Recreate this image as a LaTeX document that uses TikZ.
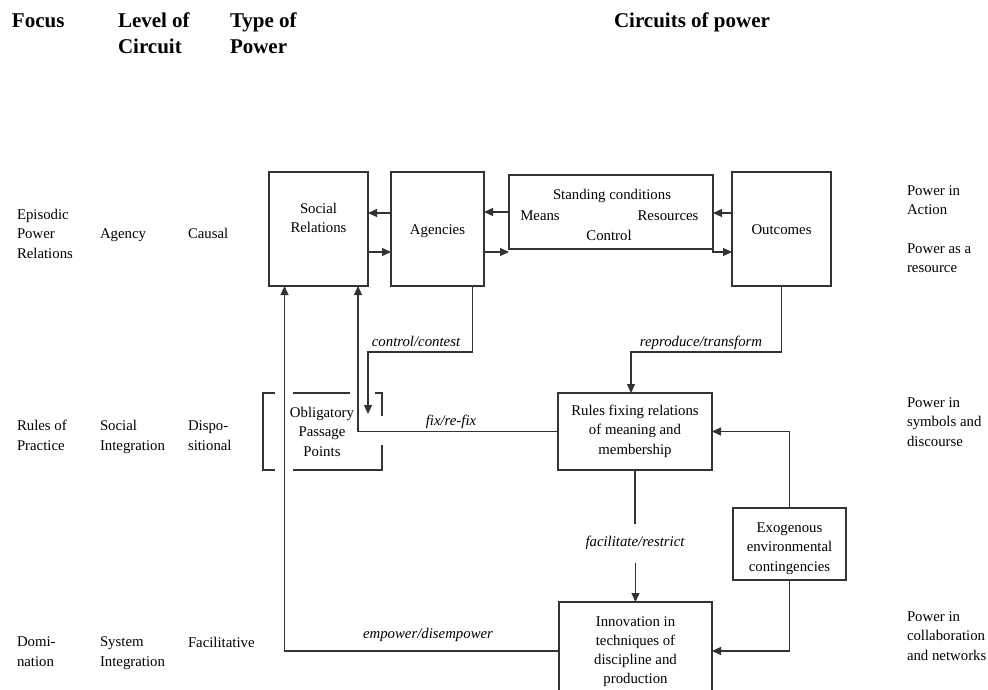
\documentclass[tikz,border=0pt]{standalone}
\usepackage{fontspec}
\setmainfont{Liberation Serif}
\usetikzlibrary{arrows.meta}

\begin{document}
\begin{tikzpicture}[x=1pt,y=-1pt,
  every node/.style={inner sep=0pt, outer sep=0pt},
  body/.style={font=\fontsize{14.8}{19.5}\selectfont, align=left, text=black},
  hdr/.style={font=\fontsize{21}{26}\selectfont\bfseries, align=left, text=black},
  lab/.style={font=\fontsize{14.8}{19}\selectfont\itshape, text=black},
  box/.style={draw=black!80, line width=1.3pt},
  conn/.style={draw=black!80, line width=1.3pt},
  arr/.style={conn, -{Triangle[length=9pt,width=8pt]}},
  ctext/.style={body, align=center, anchor=base}
]
\useasboundingbox (0,0) rectangle (988,689);
\clip (0,0) rectangle (988,689);

% column headings (a multi-line node's base is its last line)
\node[hdr, anchor=base west] (hfocus) at (12,27) {Focus};
\node[hdr, anchor=base west] (hlevel) at (118,53) {Level of\\Circuit};
\node[hdr, anchor=base west] (htype) at (230,53) {Type of\\Power};
\node[hdr, anchor=base west] (hcirc) at (614,27) {Circuits of power};

% row descriptors, left side
\node[body, anchor=base west] (f1) at (17,258) {Episodic\\Power\\Relations};
\node[body, anchor=base west] (l1) at (100,238) {Agency};
\node[body, anchor=base west] (t1) at (188,238) {Causal};
\node[body, anchor=base west] (f2) at (17,450) {Rules of\\Practice};
\node[body, anchor=base west] (l2) at (100,450) {Social\\Integration};
\node[body, anchor=base west] (t2) at (188,450) {Dispo-\\sitional};
\node[body, anchor=base west] (f3) at (17,666) {Domi-\\nation};
\node[body, anchor=base west] (l3) at (100,666) {System\\Integration};
\node[body, anchor=base west] (t3) at (188,647) {Facilitative};

% row descriptors, right side
\node[body, anchor=base west] (p1) at (907,214.5) {Power in\\Action};
\node[body, anchor=base west] (p2) at (907,272.5) {Power as a\\resource};
\node[body, anchor=base west] (p3) at (907,446) {Power in\\symbols and\\discourse};
\node[body, anchor=base west] (p4) at (907,660) {Power in\\collaboration\\and networks};

% episodic circuit boxes
\node[box, minimum width=99pt, minimum height=114pt] (sr) at (318.5,229) {};
\node[ctext] (srt) at (318.5,232.5) {Social\\Relations};
\node[box, minimum width=93pt, minimum height=114pt] (ag) at (437.5,229) {};
\node[ctext] (agt) at (437.5,234) {Agencies};
\node[box, minimum width=204pt, minimum height=74pt] (std) at (611,212) {};
\node[ctext] (stdt) at (612,199) {Standing conditions};
\node[ctext] (stdm) at (540,220) {Means};
\node[ctext] (stdr) at (668,220) {Resources};
\node[ctext] (stdc) at (609,240) {Control};
\node[box, minimum width=99pt, minimum height=114pt] (out) at (781.5,229) {};
\node[ctext] (outt) at (781.5,234) {Outcomes};

% social integration
\node[box, minimum width=154pt, minimum height=77pt] (rules) at (635,431.5) {};
\node[ctext] (rulest) at (635,454) {Rules fixing relations\\of meaning and\\membership};
\node[ctext] (opp) at (322,456) {Obligatory\\Passage\\Points};
\draw[conn] (275,393) -- (263,393) -- (263,470) -- (275,470);
\draw[conn] (293,393) -- (350,393);
\draw[conn] (375,393) -- (382,393) -- (382,416);
\draw[conn] (382,445) -- (382,470) -- (293,470);

% system integration
\node[box, minimum width=113pt, minimum height=72pt] (exo) at (789.5,544) {};
\node[ctext] (exot) at (789.5,571) {Exogenous\\environmental\\contingencies};
\node[box, minimum width=153pt, minimum height=98pt] (innov) at (635.5,651) {};
\node[ctext, font=\fontsize{14.8}{18.7}\selectfont] (innovt) at (635.5,683) {Innovation in\\techniques of\\discipline and\\production};

% episodic links
\coordinate (agR) at ([yshift=-23pt]ag.east);
\coordinate (agL) at ([yshift=16pt]ag.west);
\draw[arr] (agL) -- (agL -| sr.east);
\draw[arr] ([yshift=-23pt]sr.east) -- ([yshift=-23pt]ag.west);
\draw[arr] (std.west) -- (std.west -| ag.east);
\draw[arr] (agR) -- (agR -| std.west);
\draw[arr] ([yshift=16pt]out.west) -- ([yshift=16pt]out.west -| std.east);
\draw[arr] (std.south east) |- (agR -| out.west);

% control / contest
\coordinate (ccMid) at (368,352);
\coordinate (ccEnd) at (368,414);
\draw[arr] ([xshift=35pt]ag.south) |- (ccMid) -- (ccEnd);
\node[lab, anchor=base] (cclab) at (416,346) {control/contest};

% reproduce / transform
\coordinate (rtMid) at (631,352);
\draw[arr] (out.south) |- (rtMid) -- (rtMid |- rules.north);
\node[lab, anchor=base] (rtlab) at (701,346) {reproduce/transform};

% fix / re-fix
\draw[arr] (rules.west) -| ([xshift=39.5pt]sr.south);
\node[lab, anchor=base] (fixlab) at (451,425) {fix/re-fix};

% facilitate / restrict
\node[lab, minimum height=39pt] (frlab) at (635,543) {facilitate/restrict};
\draw[conn] (rules.south) -- (rules.south |- frlab.north);
\draw[arr] (frlab.south -| innov.north) -- (innov.north);

% empower / disempower
\draw[arr] (innov.west) -| ([xshift=-34pt]sr.south);
\node[lab, anchor=base] (emplab) at (428,638) {empower/disempower};

% exogenous contingencies
\draw[arr] (exo.north) |- (rules.east);
\draw[arr] (exo.south) |- (innov.east);
\end{tikzpicture}
\end{document}
